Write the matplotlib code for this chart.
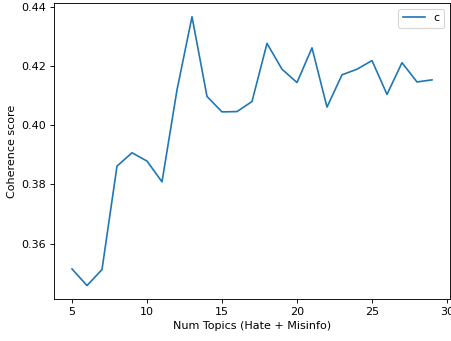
import matplotlib
matplotlib.use("Agg")
import matplotlib.pyplot as plt

num_topics = list(range(5, 30))
coherence = [0.3515, 0.3459, 0.3513, 0.3862, 0.3907, 0.3879, 0.3809, 0.4119,
             0.4366, 0.4097, 0.4045, 0.4046, 0.4080, 0.4276, 0.4189, 0.4144,
             0.4261, 0.4061, 0.4170, 0.4189, 0.4218, 0.4104, 0.4211, 0.4146,
             0.4153]
series_label = "c"

DPI = 80
fig = plt.figure(figsize=(451 / DPI, 341 / DPI), dpi=DPI)
ax = fig.add_axes([54 / 451, 1 - 299 / 341, 396 / 451, 295.7 / 341])
ax.plot(num_topics, coherence, label=series_label)
ax.set_xlabel("Num Topics (Hate + Misinfo)")
ax.set_ylabel("Coherence score")
ax.legend(loc="upper right")
fig.savefig("out.png", dpi=DPI)
